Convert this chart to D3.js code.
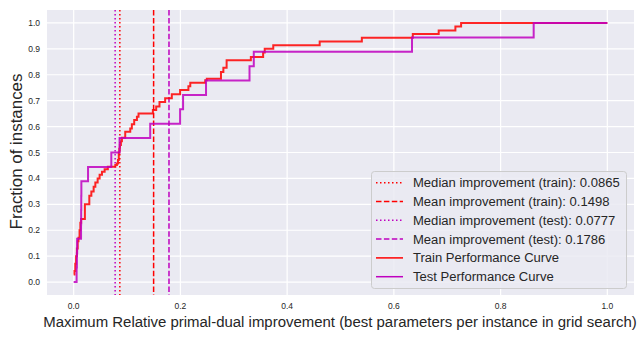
<!DOCTYPE html>
<html>
<head>
<meta charset="utf-8">
<script src="https://cdn.jsdelivr.net/npm/d3@7"></script>
<style>
  body { margin: 0; background: #fff; }
  svg { display: block; font-family: "Liberation Sans", Arial, sans-serif; }
</style>
</head>
<body>
<div id="chart"></div>
<script>
// Train ECDF step corners (x value, fraction after the step)
const trainX = [0, 0.0015, 0.003, 0.0045, 0.006, 0.0075, 0.009, 0.011, 0.0125, 0.014,
  0.021, 0.0293, 0.0331, 0.0374, 0.0406, 0.0449, 0.0486, 0.053, 0.058, 0.064,
  0.078, 0.081, 0.083, 0.0845, 0.0855, 0.0866, 0.0885, 0.0904, 0.0966, 0.106,
  0.109, 0.1134, 0.1185, 0.1215, 0.1484, 0.1546, 0.1608, 0.1714, 0.1839, 0.1994,
  0.215, 0.2185, 0.2465, 0.2495, 0.276, 0.2805, 0.2866, 0.332, 0.355, 0.358,
  0.374, 0.461, 0.540, 0.6355, 0.684, 0.7153, 0.726, 1.0];
const trainY = [0.029, 0.043, 0.071, 0.100, 0.129, 0.157, 0.171, 0.200, 0.229, 0.243,
  0.300, 0.333, 0.349, 0.368, 0.384, 0.400, 0.414, 0.426, 0.435, 0.445,
  0.452, 0.458, 0.471, 0.500, 0.514, 0.529, 0.543, 0.557, 0.580, 0.593,
  0.609, 0.625, 0.638, 0.651, 0.664, 0.678, 0.695, 0.709, 0.725, 0.741,
  0.756, 0.769, 0.779, 0.785, 0.811, 0.827, 0.856, 0.869, 0.886, 0.900,
  0.914, 0.928, 0.943, 0.957, 0.971, 0.986, 1.0, 1.0];

// Test ECDF step corners
const testX = [0, 0.0055, 0.006, 0.0065, 0.0138, 0.014, 0.0142, 0.0144, 0.0269, 0.0705,
  0.086, 0.1434, 0.1994, 0.205, 0.248, 0.3295, 0.3375, 0.634, 0.862, 1.0];
const testY = [0, 0.056, 0.111, 0.167, 0.222, 0.278, 0.333, 0.389, 0.444, 0.5,
  0.556, 0.611, 0.667, 0.722, 0.778, 0.833, 0.889, 0.944, 1.0, 1.0];

// Reference lines, in legend order
const refLabels = ["Median improvement (train): 0.0865", "Mean improvement (train): 0.1498",
  "Median improvement (test): 0.0777", "Mean improvement (test): 0.1786"];
const refValues = [0.0865, 0.1498, 0.0777, 0.1786];
const refColors = ["#ff0000", "#ff0000", "#bf00bf", "#bf00bf"];
const refDash = ["1.5,2.5", "5.5,2.4", "1.5,2.5", "5.5,2.4"];

const curveLabels = ["Train Performance Curve", "Test Performance Curve"];
const curveColors = ["#ff0000", "#bf00bf"];

const xTicks = [0, 0.2, 0.4, 0.6, 0.8, 1.0];
const yTicks = [0, 0.1, 0.2, 0.3, 0.4, 0.5, 0.6, 0.7, 0.8, 0.9, 1.0];

const width = 644, height = 339;
const plotL = 47, plotR = 634, plotT = 10, plotB = 295;

const x = d3.scaleLinear().domain([-0.05, 1.05]).range([plotL, plotR]);
const y = d3.scaleLinear().domain([-0.05, 1.05]).range([plotB, plotT]);

const svg = d3.select("#chart").append("svg")
  .attr("width", width)
  .attr("height", height);

// font size that makes a text span the given width
function fitSize(text, target) {
  const t = svg.append("text").attr("font-size", "20px").text(text);
  const w = t.node().getComputedTextLength();
  t.remove();
  return 20 * target / w;
}

svg.append("rect")
  .attr("x", plotL).attr("y", plotT)
  .attr("width", plotR - plotL).attr("height", plotB - plotT)
  .attr("fill", "#eaeaf2");

// grid
svg.append("g").selectAll("line")
  .data(xTicks).enter().append("line")
  .attr("x1", d => x(d)).attr("x2", d => x(d))
  .attr("y1", plotT).attr("y2", plotB)
  .attr("stroke", "#fff").attr("stroke-width", 1.2);
svg.append("g").selectAll("line")
  .data(yTicks).enter().append("line")
  .attr("x1", plotL).attr("x2", plotR)
  .attr("y1", d => y(d)).attr("y2", d => y(d))
  .attr("stroke", "#fff").attr("stroke-width", 1.2);

// tick labels
svg.append("g").selectAll("text")
  .data(xTicks).enter().append("text")
  .attr("x", d => x(d)).attr("y", 309)
  .attr("text-anchor", "middle")
  .attr("font-size", "8.5px").attr("fill", "#262626")
  .text(d => d.toFixed(1));
svg.append("g").selectAll("text")
  .data(yTicks).enter().append("text")
  .attr("x", 40).attr("y", d => y(d) + 3)
  .attr("text-anchor", "end")
  .attr("font-size", "8.5px").attr("fill", "#262626")
  .text(d => d.toFixed(1));

// axis labels
const xLabel = "Maximum Relative primal-dual improvement (best parameters per instance in grid search)";
svg.append("text")
  .attr("x", 340).attr("y", 327)
  .attr("text-anchor", "middle")
  .attr("font-size", fitSize(xLabel, 594) + "px").attr("fill", "#262626")
  .text(xLabel);
const yLabel = "Fraction of instances";
svg.append("text")
  .attr("transform", `translate(22,${(plotT + plotB) / 2 - 1}) rotate(-90)`)
  .attr("text-anchor", "middle")
  .attr("font-size", fitSize(yLabel, 156) + "px").attr("fill", "#262626")
  .text(yLabel);

// vertical reference lines
svg.append("g").selectAll("line")
  .data(refValues).enter().append("line")
  .attr("x1", d => x(d)).attr("x2", d => x(d))
  .attr("y1", plotT).attr("y2", plotB)
  .attr("stroke", (d, i) => refColors[i])
  .attr("stroke-width", 1.5)
  .attr("stroke-dasharray", (d, i) => refDash[i]);

// step curves
const line = d3.line()
  .x(d => x(d[0])).y(d => y(d[1]))
  .curve(d3.curveStepAfter);

const curves = [d3.zip(trainX, trainY), d3.zip(testX, testY)];
svg.append("g").selectAll("path")
  .data(curves).enter().append("path")
  .attr("d", line)
  .attr("fill", "none")
  .attr("stroke", (d, i) => curveColors[i])
  .attr("stroke-width", 2)
  .attr("stroke-opacity", 0.85);

// legend
const legItems = refLabels.map((t, i) => ({ label: t, color: refColors[i], dash: refDash[i] }))
  .concat(curveLabels.map((t, i) => ({ label: t, color: curveColors[i], dash: null })));
const legFont = fitSize(refLabels[0], 207);

const leg = svg.append("g");
leg.append("rect")
  .attr("x", 371.5).attr("y", 171.5)
  .attr("width", 255).attr("height", 117)
  .attr("rx", 3)
  .attr("fill", "#eaeaf2").attr("fill-opacity", 0.85)
  .attr("stroke", "#cccccc").attr("stroke-width", 1);

const rows = leg.selectAll("g.row")
  .data(legItems).enter().append("g")
  .attr("transform", (d, i) => `translate(0,${182.7 + i * 18.8})`);
rows.append("line")
  .attr("x1", 376).attr("x2", 403)
  .attr("stroke", d => d.color)
  .attr("stroke-width", 1.5)
  .attr("stroke-dasharray", d => d.dash);
rows.append("text")
  .attr("x", 413).attr("y", legFont * 0.34)
  .attr("font-size", legFont + "px").attr("fill", "#262626")
  .text(d => d.label);
</script>
</body>
</html>
